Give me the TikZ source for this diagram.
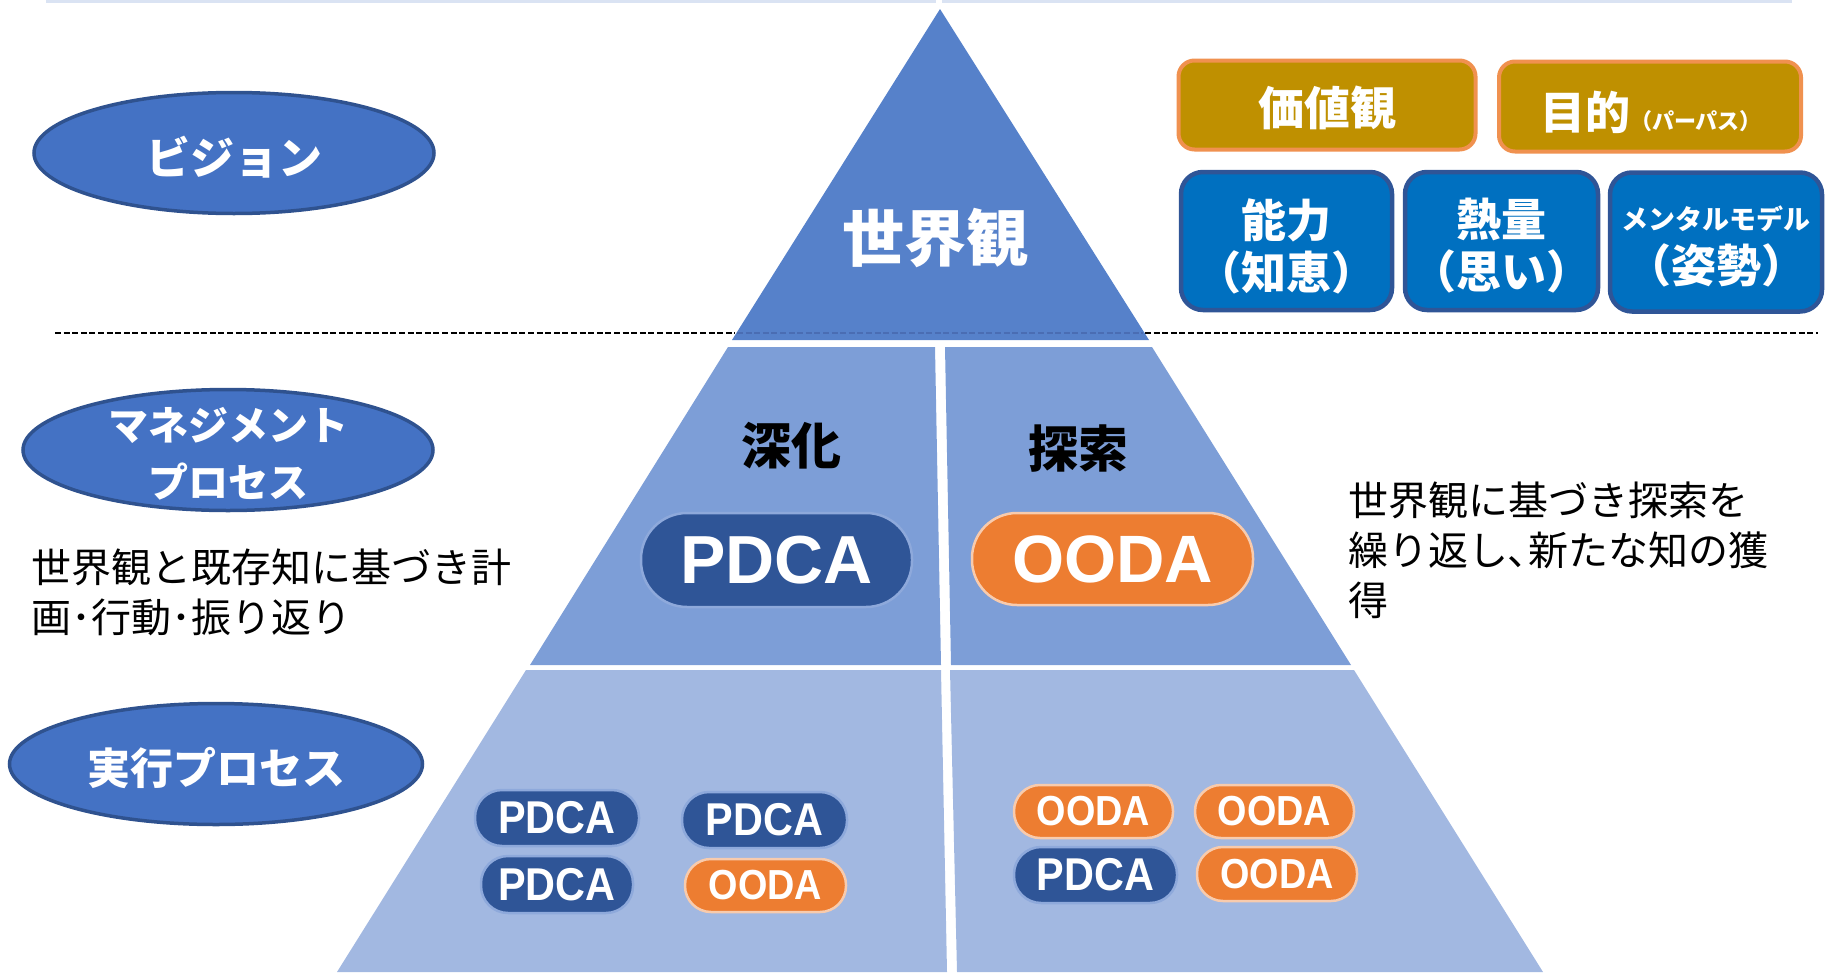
\documentclass[tikz,border=0pt]{standalone}
\usepackage{fontspec}
\setmainfont{Liberation Sans}
\newfontfamily\narrowlat[FakeStretch=0.9]{Liberation Sans}
\newfontfamily\jp{Noto Sans CJK JP}
\usetikzlibrary{shapes.geometric}
\definecolor{tri1}{HTML}{5681CA}
\definecolor{tri2}{HTML}{7D9ED7}
\definecolor{tri3}{HTML}{A2B8E1}
\definecolor{ovfill}{HTML}{4472C4}
\definecolor{ovline}{HTML}{2F528F}
\definecolor{pdcafill}{HTML}{2F5597}
\definecolor{pdcaline}{HTML}{8EA9DB}
\definecolor{oodafill}{HTML}{ED7D31}
\definecolor{oodaline}{HTML}{F8CBAD}
\definecolor{goldfill}{HTML}{BF9000}
\definecolor{goldline}{HTML}{F0914F}
\definecolor{bluefill}{HTML}{0070C0}
\definecolor{blueline}{HTML}{2F5597}
\definecolor{topline}{HTML}{DAE3F3}
\definecolor{dashin}{HTML}{4A6DB3}
\newcommand\jpb[2]{\jp\bfseries\fontsize{#1}{#2}\selectfont}
\newcommand\jpr[2]{\jp\fontsize{#1}{#2}\selectfont}
\newcommand\lat[1]{\bfseries\fontsize{#1}{#1}\selectfont}
\newcommand\nlat[1]{\narrowlat\bfseries\fontsize{#1}{#1}\selectfont}
\begin{document}
\begin{tikzpicture}[x=1pt,y=-1pt,
  oval/.style={ellipse, draw=ovline, fill=ovfill, line width=3.5, inner sep=0},
  wtxt/.style={text=white, inner sep=0, align=center},
  btxt/.style={text=black, inner sep=0, align=left},
  pdcapill/.style={draw=pdcaline, fill=pdcafill, line width=2.5, inner sep=0, text=white},
  oodapill/.style={draw=oodaline, fill=oodafill, line width=2.5, inner sep=0, text=white},
  goldbox/.style={draw=goldline, fill=goldfill, line width=4, rounded corners=16, inner sep=0},
  bluebox/.style={draw=blueline, fill=bluefill, line width=4.5, rounded corners=22, inner sep=0},
  sep/.style={line width=2.8, dash pattern=on 6pt off 2.6pt}
]
\useasboundingbox (0,0) rectangle (1825,972);
% faint top rule
\fill[topline] (46,0) rectangle (936,2.5);
\fill[topline] (942,0) rectangle (1792,2.5);

% dashed separator (outside parts)
\coordinate (dl1) at (55,333);
\coordinate (dl2) at (735,333);
\coordinate (dl3) at (1145,333);
\coordinate (dl4) at (1818,333);
\draw[sep, black] (dl1) -- (dl2);
\draw[sep, black] (dl3) -- (dl4);

% pyramid
\fill[tri1] (940,9) -- (1149,340) -- (732,340) -- cycle;
\draw[sep, dashin] (737,333) -- (1143,333);
\fill[tri2] (728,347) -- (935,347) -- (941,665) -- (530,665) -- cycle;
\fill[tri2] (945,347) -- (1152,347) -- (1351,665) -- (951,665) -- cycle;
\fill[tri3] (526,670) -- (941,670) -- (947,972) -- (337,972) -- cycle;
\fill[tri3] (950,670) -- (1354,670) -- (1543,972) -- (957,972) -- cycle;

\node[wtxt, font={\jpb{62}{62}}] (world) at (935,238) {世界観};
\node[inner sep=0, font={\jpb{50}{50}}] (shinka) at (791,446) {深化};
\node[inner sep=0, font={\jpb{50}{50}}] (tansaku) at (1078,449) {探索};

% big pills
\node[pdcapill, rounded corners=46, minimum width=271, minimum height=94, font={\lat{68}}] (bigpdca) at (776.5,560) {PDCA};
\node[oodapill, rounded corners=45, minimum width=281, minimum height=92, font={\lat{67}}] (bigooda) at (1112.5,559) {OODA};

% small pills left
\node[pdcapill, rounded corners=27, minimum width=164, minimum height=56, font={\nlat{46}}] (p1) at (557,818) {PDCA};
\node[pdcapill, rounded corners=27, minimum width=165, minimum height=56, font={\nlat{46}}] (p2) at (764.5,820) {PDCA};
\node[pdcapill, rounded corners=27, minimum width=152, minimum height=57, font={\nlat{46}}] (p3) at (557,884.5) {PDCA};
\node[oodapill, rounded corners=26, minimum width=161, minimum height=53, font={\nlat{42}}] (o1) at (765.5,885.5) {OODA};
% small pills right
\node[oodapill, rounded corners=26, minimum width=159, minimum height=53, font={\nlat{42}}] (o2) at (1093.5,811.5) {OODA};
\node[oodapill, rounded corners=26, minimum width=159, minimum height=53, font={\nlat{42}}] (o3) at (1274.5,811.5) {OODA};
\node[pdcapill, rounded corners=27, minimum width=163, minimum height=56, font={\nlat{46}}] (p4) at (1095.5,875) {PDCA};
\node[oodapill, rounded corners=26, minimum width=160, minimum height=54, font={\nlat{42}}] (o4) at (1277,874) {OODA};

% left ellipses
\node[oval, minimum width=400, minimum height=121] (vision) at (234,153) {};
\node[wtxt, font={\jpb{44}{44}}] (visiontxt) at (234,157) {ビジョン};
\node[oval, minimum width=410, minimum height=121] (mgmt) at (228,450) {};
\node[wtxt, font={\jpb{40}{57}}] (mgmttxt) at (228,453.5) {マネジメント\\プロセス};
\node[oval, minimum width=413, minimum height=121] (exec) at (216,764) {};
\node[wtxt, font={\jpb{43}{43}}] (exectxt) at (216,768) {実行プロセス};

% descriptions
\node[btxt, anchor=west, font={\jpr{40}{50}}] (ldesc) at (31,592) {世界観と既存知に基づき計\\画･行動･振り返り};
\node[btxt, anchor=west, font={\jpr{40}{50}}] (rdesc) at (1348,550) {世界観に基づき探索を\\繰り返し､新たな知の獲\\得};

% right boxes
\node[goldbox, minimum width=297, minimum height=89] (kachi) at (1327,105) {};
\node[wtxt, font={\jpb{46}{46}}] (kachitxt) at (1327,108) {価値観};
\node[goldbox, minimum width=302, minimum height=90] (mokuteki) at (1650,106.5) {};
\node[wtxt] (mokutekitxt) at (1651,112) {{\jpb{45}{45}目的}{\jpb{22}{22}（パーパス）}};
\node[bluebox, minimum width=211, minimum height=138] (nouryoku) at (1286.5,241) {};
\node[wtxt, font={\jpb{45}{52}}] (nouryokutxt) at (1286.5,246) {能力\\（知恵）};
\node[bluebox, minimum width=193, minimum height=138] (netsu) at (1501.5,241) {};
\node[wtxt, font={\jpb{45}{52}}] (netsutxt) at (1501.5,246) {熱量\\（思い）};
\node[bluebox, minimum width=212, minimum height=139] (mental) at (1716,242) {};
\node[wtxt, font={\jpb{27}{27}}] (mentaltxt1) at (1716,219) {メンタルモデル};
\node[wtxt, font={\jpb{45}{45}}] (mentaltxt2) at (1716,265) {（姿勢）};
\end{tikzpicture}
\end{document}
